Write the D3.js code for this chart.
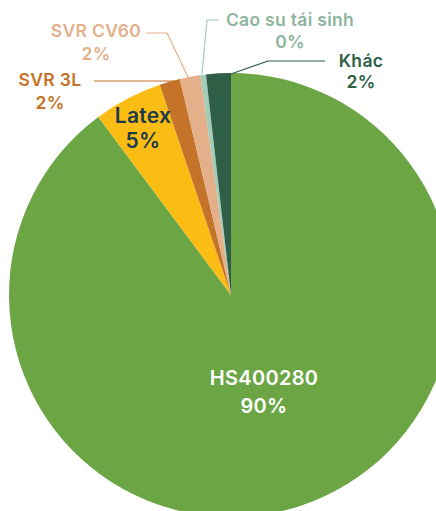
<!DOCTYPE html>
<html>
<head>
<meta charset="utf-8">
<script src="https://cdn.jsdelivr.net/npm/d3@7"></script>
<style>
  body { margin: 0; background: #fff; }
  text { font-family: Inter, "Noto Sans", sans-serif; font-weight: 600; }
</style>
</head>
<body>
<script>
var width = 436;
var height = 511;

var categories = ['HS400280', 'Latex', 'SVR 3L', 'SVR CV60', 'Cao su tái sinh', 'Khác'];
var shares = [89.8, 5.0, 1.5, 1.5, 0.4, 1.8];
var sliceColors = ['#6ca644', '#fbbd14', '#c47328', '#e4b08a', '#a2cbb8', '#2f5e47'];
var labelColors = ['#ffffff', '#1c3a4e', '#c47328', '#e4b08a', '#8db59e', '#2f5e47'];

// label anchors: inside text for the big ones, outside with leaders for the thin ones
var labelSpots = [
  { x: 264, y: 385, size: 20, gap: 28 },
  { x: 143, y: 123, size: 21, gap: 25 },
  { x: 50, y: 86, size: 17.5, gap: 23, line: [[94, 81], [174, 81]] },
  { x: 96, y: 37, size: 17.5, gap: 23, line: [[146, 33], [167, 33], [188, 77]] },
  { x: 290, y: 26, size: 17.5, gap: 22, line: [[219, 20], [207, 20], [202, 74]] },
  { x: 361, y: 67, size: 17.5, gap: 21, line: [[325, 61], [268, 61], [231, 74]] }
];

var cx = 231, cy = 295, radius = 222;

var svg = d3.select('body').append('svg')
  .attr('width', width)
  .attr('height', height);

var pie = d3.pie().sort(null).value(d => d);
var arc = d3.arc().innerRadius(0).outerRadius(radius);

var pieG = svg.append('g')
  .attr('transform', 'translate(' + cx + ',' + cy + ')');

pieG.selectAll('path')
  .data(pie(shares))
  .enter().append('path')
  .attr('d', arc)
  .attr('fill', (d, i) => sliceColors[i]);

var line = d3.line();

labelSpots.forEach(function(spot, i) {
  if (spot.line) {
    svg.append('path')
      .attr('d', line(spot.line))
      .attr('fill', 'none')
      .attr('stroke', i == 4 ? sliceColors[i] : labelColors[i])
      .attr('stroke-width', 1.2);
  }
  var t = svg.append('text')
    .attr('x', spot.x)
    .attr('y', spot.y)
    .attr('text-anchor', 'middle')
    .attr('fill', labelColors[i])
    .style('font-size', spot.size + 'px')
    .style('letter-spacing', '0.3px');
  t.append('tspan').attr('x', spot.x).text(categories[i]);
  t.append('tspan').attr('x', spot.x).attr('dy', spot.gap)
    .text(Math.round(shares[i]) + '%');
});
</script>
</body>
</html>
